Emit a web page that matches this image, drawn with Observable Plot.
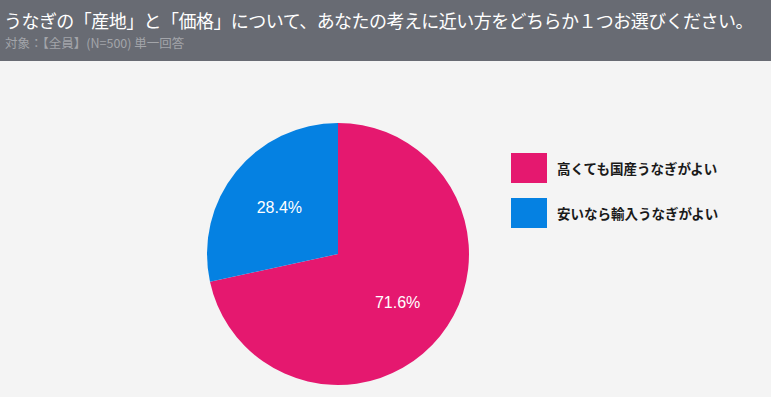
<!DOCTYPE html>
<html><head><meta charset="utf-8">
<script src="https://cdn.jsdelivr.net/npm/d3@7"></script>
<script src="https://cdn.jsdelivr.net/npm/@observablehq/plot@0.6"></script>
<style>
body{margin:0;background:#f4f4f4;font-family:"Noto Sans CJK JP",sans-serif;}
#wrap{position:relative;width:771px;height:397px;overflow:hidden;background:#f4f4f4;}
#head{position:absolute;left:0;top:0;width:771px;height:61px;background:#686b73;}
#title{position:absolute;left:4px;top:7px;color:#fff;font-size:18px;white-space:nowrap;letter-spacing:-0.55px;}
#sub{position:absolute;left:5px;top:33px;color:#a3a5aa;font-size:12.5px;white-space:nowrap;}
#chart{position:absolute;left:0;top:61px;}
#legend{position:absolute;left:511px;top:153px;}
.li{display:flex;align-items:center;height:30px;margin-bottom:15px;}
.sw{width:36px;height:30px;margin-right:10px;}
.lt{font-size:13.5px;font-weight:bold;color:#1a1a1a;}
</style></head>
<body><div id="wrap">
<div id="head"><div id="title"></div><div id="sub"></div></div>
<div id="chart"></div>
<div id="legend"></div>
</div>
<script>
const titleText = "うなぎの「産地」と「価格」について、あなたの考えに近い方をどちらか１つお選びください。";
const subtitleText = "対象：【全員】(N=500) 単一回答";
const categories = ["高くても国産うなぎがよい", "安いなら輸入うなぎがよい"];
const values = [71.6, 28.4];
const colors = ["#e5186f", "#0581e2"];

document.getElementById("title").textContent = titleText;
document.getElementById("sub").textContent = subtitleText;

const data = categories.map((c, i) => ({category: c, value: values[i], color: colors[i]}));
const arcs = d3.pie().sort(null).value(d => d.value)(data);
const labelR = 0.58;
const labels = arcs.map(a => {
  const mid = (a.startAngle + a.endAngle) / 2;
  return {x: labelR * Math.sin(mid), y: labelR * Math.cos(mid), text: a.data.value.toFixed(1) + "%"};
});

const pieMark = (index, scales) => {
  const cx = scales.x(0), cy = scales.y(0), r = scales.x(1) - scales.x(0);
  const g = d3.create("svg:g").attr("transform", `translate(${cx},${cy})`);
  g.selectAll("path").data(arcs).join("path")
    .attr("d", d3.arc().innerRadius(0).outerRadius(r))
    .attr("fill", d => d.data.color);
  return g.node();
};

const plot = Plot.plot({
  width: 771, height: 336,
  margin: 0,
  style: {background: "transparent"},
  x: {domain: [-1, 1], range: [207, 469], axis: null},
  y: {domain: [-1, 1], range: [324, 62], axis: null},
  marks: [
    pieMark,
    Plot.text(labels, {x: "x", y: "y", dy: 1, text: "text", fill: "#fff", fontSize: 16,
      fontFamily: "Liberation Sans, Arial, sans-serif"})
  ]
});
document.getElementById("chart").appendChild(plot);

const legend = document.getElementById("legend");
data.forEach(d => {
  const row = document.createElement("div"); row.className = "li";
  const sw = document.createElement("div"); sw.className = "sw"; sw.style.background = d.color;
  const t = document.createElement("div"); t.className = "lt"; t.textContent = d.category;
  row.appendChild(sw); row.appendChild(t); legend.appendChild(row);
});
</script>
</body></html>
